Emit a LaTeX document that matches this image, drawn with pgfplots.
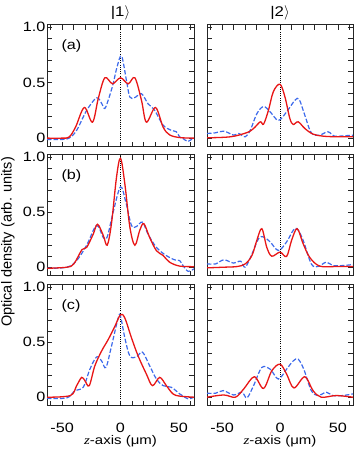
\documentclass[border=0pt]{standalone}
\usepackage{pgfplots}
\pgfplotsset{compat=1.18}
\usepackage{fontspec}
\setmainfont{Liberation Sans}[FakeStretch=1.2]
\newfontfamily\plainsans{Liberation Sans}
\newfontfamily\serifit{Liberation Serif}[FakeStretch=1.2]
\definecolor{myred}{RGB}{232,22,22}
\definecolor{myblue}{RGB}{60,105,235}
\pgfplotsset{
  panel/.style={scale only axis, width=147pt, height=121pt,
    xmin=-63, xmax=63, ymin=-0.08, ymax=1.02,
    xtick={-50,0,50}, xticklabels={-50,0,50},
    minor xtick={-60,-40,-30,-20,-10,10,20,30,40,60},
    ytick={0,0.5,1}, yticklabels={0,0.5,1.0},
    minor ytick={0.1,0.2,0.3,0.4,0.6,0.7,0.8,0.9},
    tick align=inside, major tick length=5pt, minor tick length=5pt,
    tick style={line width=0.8pt, color=black!85},
    axis line style={line width=1pt, black!85},
    tick label style={font=\fontsize{13.5}{15}\selectfont},
    /pgf/number format/assume math mode=true,
    xticklabel style={yshift=-14pt},
    yticklabel style={xshift=2pt},
    clip=true},
  nox/.style={xticklabels={}},
  noy/.style={yticklabels={}},
  redl/.style={myred, line width=1.3pt, smooth, tension=0.55},
  bluel/.style={myblue, line width=1.2pt, dash pattern=on 4.5pt off 2pt, smooth, tension=0.55},
  zline/.style={black, line width=0.8pt, dash pattern=on 1pt off 1.2pt},
}
\newcommand{\plab}[1]{\node[anchor=west, font=\fontsize{13.5}{15}\selectfont] at (axis description cs:0.075,0.83) {#1};}
\begin{document}
\begin{tikzpicture}
\useasboundingbox (0,0) rectangle (354pt,449pt);
% (a) left
\begin{axis}[panel, nox, at={(47pt,302pt)}, anchor=south west, height=122pt]
\addplot[zline] coordinates {(0,-0.08) (0,1.02)};
\addplot[bluel] coordinates {(-63,-0.012) (-50,-0.012) (-44,0.0) (-37.6,0.07) (-29,0.25) (-20.5,0.363) (-16,0.31) (-13.4,0.267) (-10,0.36) (-6.3,0.49) (-3,0.64) (0.9,0.74) (5.1,0.52) (8,0.37) (12.3,0.366) (18,0.40) (23.6,0.31) (29.3,0.25) (36.5,0.117) (43.6,0.07) (47.9,0.057) (50.7,0.01) (53,0.0) (57.9,-0.03) (62,0.0) (63,0.0)};
\addplot[redl] coordinates {(-63,0) (-50,0) (-44,0.01) (-38.5,0.10) (-31,0.276) (-24,0.144) (-19,0.36) (-13.4,0.544) (-6.8,0.49) (0,0.544) (6.6,0.49) (12.3,0.544) (18,0.34) (22.2,0.144) (30,0.276) (36.5,0.10) (42,0.03) (50.7,0.005) (63,0)};
\plab{(a)}
\end{axis}
% (a) right
\begin{axis}[panel, nox, noy, at={(207pt,302pt)}, anchor=south west, width=146pt, height=122pt]
\addplot[zline] coordinates {(0,-0.08) (0,1.02)};
\addplot[bluel] coordinates {(-63,0.042) (-55.6,0.048) (-48.4,0.063) (-40,0.027) (-35.6,0.042) (-30,0.012) (-25.6,0.072) (-20,0.22) (-14.2,0.285) (-8.5,0.237) (-1.4,0.16) (5.7,0.237) (12.8,0.34) (16.5,0.35) (21.4,0.207) (27,0.048) (34,0.027) (41.3,0.057) (47,0.018) (54,0.02) (63,0.027)};
\addplot[redl] coordinates {(-63,0.003) (-42.7,0.012) (-28.5,0.05) (-22.8,0.087) (-17,0.147) (-14.2,0.126) (-10,0.25) (-5.7,0.42) (0,0.486) (4.3,0.37) (8.5,0.177) (11.4,0.123) (15.7,0.147) (21.4,0.087) (28.5,0.036) (37,0.018) (48.4,0.012) (63,0.012)};
\end{axis}
% (b) left
\begin{axis}[panel, nox, at={(47pt,173pt)}, anchor=south west]
\addplot[zline] coordinates {(0,-0.08) (0,1.02)};
\addplot[bluel] coordinates {(-63,-0.01) (-46,0) (-37.6,0.06) (-29,0.2) (-20.5,0.38) (-14.8,0.27) (-11.4,0.275) (-6.3,0.5) (0,0.73) (4.6,0.59) (9.4,0.38) (13.7,0.37) (18.8,0.41) (23.6,0.30) (30.8,0.18) (39,0.107) (46.4,0.067) (50.7,0.06) (53.6,0.015) (57.9,-0.037) (63,-0.015)};
\addplot[redl] coordinates {(-63,-0.01) (-46,0) (-40,0.03) (-33,0.16) (-29,0.18) (-23.4,0.30) (-19.7,0.39) (-14.8,0.29) (-11.4,0.20) (-7.7,0.40) (-3.4,0.82) (0,0.99) (3.7,0.76) (8,0.366) (12.3,0.20) (16.5,0.335) (20,0.396) (25,0.27) (30.8,0.15) (36.5,0.107) (42,0.046) (50.7,0.01) (63,0.005)};
\plab{(b)}
\end{axis}
% (b) right
\begin{axis}[panel, nox, noy, at={(207pt,173pt)}, anchor=south west, width=146pt]
\addplot[zline] coordinates {(0,-0.08) (0,1.02)};
\addplot[bluel] coordinates {(-63,0.03) (-55.6,0.03) (-48.4,0.067) (-40,0.037) (-34,0.055) (-30,0.0) (-24.2,0.12) (-18.5,0.26) (-14.2,0.275) (-8.5,0.23) (-1.4,0.152) (5.7,0.23) (11.4,0.335) (14.8,0.35) (20,0.244) (27,0.03) (32.8,0.006) (40,0.046) (45.6,0.015) (54,0.015) (63,0.024)};
\addplot[redl] coordinates {(-63,-0.006) (-48.4,0) (-37,0.006) (-30,0.03) (-24.2,0.107) (-20,0.244) (-15.7,0.35) (-11.4,0.18) (-7.1,0.10) (0,0.137) (5.7,0.098) (10,0.244) (14.8,0.35) (20,0.213) (25.6,0.09) (34.2,0.01) (48.4,0.006) (63,0.006)};
\end{axis}
% (c) left
\begin{axis}[panel, at={(47pt,43pt)}, anchor=south west]
\addplot[zline] coordinates {(0,-0.08) (0,1.02)};
\addplot[bluel] coordinates {(-63,-0.01) (-46,-0.006) (-39,0.06) (-32,0.09) (-26.2,0.255) (-20.5,0.366) (-16.2,0.33) (-12.5,0.27) (-7.7,0.465) (-2,0.72) (0,0.735) (3.7,0.54) (8,0.375) (13.7,0.366) (18.8,0.41) (25,0.285) (30.8,0.165) (36.5,0.105) (43.6,0.09) (50.7,0.03) (53,0.015) (57.9,-0.015) (63,0.0)};
\addplot[redl] coordinates {(-63,0) (-43,0.015) (-37.6,0.105) (-33.3,0.18) (-30.5,0.15) (-26.8,0.105) (-22,0.285) (-16.2,0.42) (-10.5,0.525) (-4.8,0.645) (0,0.75) (3.7,0.72) (9.4,0.54) (15.1,0.375) (22.2,0.21) (27.4,0.105) (33.6,0.18) (39.3,0.105) (45,0.03) (50.7,0.01) (63,0)};
\plab{(c)}
\end{axis}
% (c) right
\begin{axis}[panel, noy, at={(207pt,43pt)}, anchor=south west, width=146pt]
\addplot[zline] coordinates {(0,-0.08) (0,1.02)};
\addplot[bluel] coordinates {(-63,0.036) (-55.6,0.036) (-49,0.06) (-40,0.02) (-32.8,0.045) (-28.5,-0.006) (-22.8,0.105) (-15.7,0.27) (-8.5,0.255) (-1.4,0.165) (5.7,0.255) (11.4,0.33) (15.7,0.345) (20.5,0.255) (27,0.06) (32.8,0.015) (40,0.045) (45.6,0.015) (54,0.015) (63,0.03)};
\addplot[redl] coordinates {(-63,0) (-48.4,0.02) (-38.5,0.0) (-31.3,0.075) (-22.2,0.186) (-14.2,0.08) (-7.1,0.24) (0,0.30) (5.7,0.21) (12,0.084) (21.4,0.186) (28.5,0.06) (35.6,0) (48.4,0.015) (63,0)};
\end{axis}
% titles and labels
\node[font=\fontsize{14}{16}\selectfont] at (120.5pt,436pt) {|1$\rangle$};
\node[font=\fontsize{14}{16}\selectfont] at (280pt,436pt) {|2$\rangle$};
\node[rotate=90, font=\plainsans\fontsize{14.5}{16}\selectfont] at (8pt,207pt) {Optical density (arb. units)};
\node[font=\fontsize{12.5}{14}\selectfont] at (120.5pt,8pt) {{\serifit\itshape z}-axis (μm)};
\node[font=\fontsize{12.5}{14}\selectfont] at (280pt,8pt) {{\serifit\itshape z}-axis (μm)};
\end{tikzpicture}
\end{document}
